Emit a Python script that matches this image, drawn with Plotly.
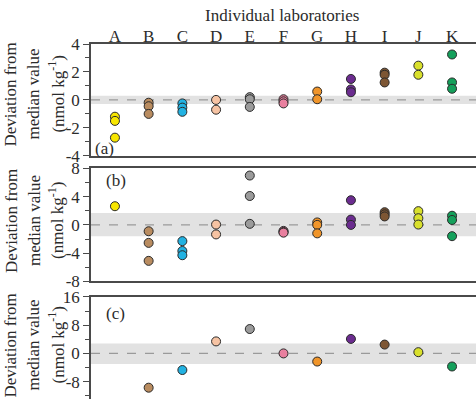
import plotly.graph_objects as go

labs = ["A", "B", "C", "D", "E", "F", "G", "H", "I", "J", "K"]
lab_colors = ["#f7e600", "#b98c60", "#22b2e2", "#f6c3a3", "#9b9b9b", "#e9809f",
              "#f0952a", "#6b2c8f", "#7d5634", "#d9e02c", "#14a05b"]

# Deviation from median value (nmol kg-1), per laboratory
panel_a = [[-1.2, -1.5, -2.7], [-0.2, -0.45, -1.0], [-0.25, -0.55, -0.85], [0.0, -0.7],
           [0.2, 0.05, -0.5], [0.05, -0.1, -0.25], [0.6, 0.05], [1.5, 0.75, 0.55],
           [1.95, 1.8, 1.25], [2.45, 1.8], [3.25, 1.25, 0.8]]
panel_b = [[2.65], [-0.9, -2.55, -5.1], [-2.3, -3.7, -4.3], [0.05, -1.35],
           [7.0, 4.1, 0.15], [-0.85, -1.0, -1.1], [0.35, 0.0, -1.2], [3.5, 0.75, 0.0],
           [1.8, 1.5, 1.2], [1.95, 0.95, 0.05], [1.3, 0.7, -1.6]]
panel_c = [[], [-9.7], [-4.7], [3.4], [6.9], [0.0], [-2.3], [4.1], [2.5], [0.35], [-3.7]]

bands = [(-0.3, 0.3), (-1.6, 1.7), (-3.0, 2.8)]
panel_tags = ["(a)", "(b)", "(c)"]
title_lines = ["Deviation from", "median value", "(nmol kg<sup>-1</sup>)"]

FONT = "Liberation Serif"
TXT = "#2b2b2b"
AX = "#4a4a4a"

fig = go.Figure()
for p, data in enumerate([panel_a, panel_b, panel_c]):
    xa = "x" if p == 0 else f"x{p+1}"
    ya = "y" if p == 0 else f"y{p+1}"
    for i, vals in enumerate(data):
        if not vals:
            continue
        fig.add_trace(go.Scatter(
            x=[i + 1] * len(vals), y=vals, mode="markers", xaxis=xa, yaxis=ya,
            marker=dict(size=9, color=lab_colors[i], line=dict(color="#2a2a2a", width=1)),
            showlegend=False, hoverinfo="skip"))

W, H = 476, 409
L, T = 91, 44
ph = H - T
def dom(top_px, bot_px):
    return [max(0, (H - bot_px) / ph), min(1, (H - top_px) / ph)]

doms = [dom(44, 159), dom(172, 288), dom(304, 409)]
ranges = [[-4, 4], [-8, 8], [-12.9, 16]]
majors = [[-4, -2, 0, 2, 4], [-8, -4, 0, 4, 8], [-8, 0, 8, 16]]
minor_dt = [1, 2, 4]

xcommon = dict(range=[0.29, 11.71], showgrid=False, zeroline=False,
               showline=True, linecolor=AX, linewidth=2)
ycommon = dict(showgrid=False, zeroline=False, showline=True, linecolor=AX, linewidth=1.5,
               ticks="outside", ticklen=6, tickcolor=AX, tickwidth=1.2,
               tickfont=dict(family=FONT, size=17, color=TXT))

layout = dict(width=W, height=H, margin=dict(l=L, r=0, t=T, b=0),
              paper_bgcolor="white", plot_bgcolor="white",
              font=dict(family=FONT, color=TXT))

for p in range(3):
    xk = "xaxis" if p == 0 else f"xaxis{p+1}"
    yk = "yaxis" if p == 0 else f"yaxis{p+1}"
    ya = "y" if p == 0 else f"y{p+1}"
    xa = "x" if p == 0 else f"x{p+1}"
    xd = dict(xcommon, anchor=ya)
    if p == 0:
        xd.update(side="top", mirror=True, tickmode="array", tickvals=list(range(1, 12)),
                  ticktext=labs, ticks="", ticklabelstandoff=-7,
                  tickfont=dict(family=FONT, size=17, color=TXT))
    elif p == 1:
        xd.update(mirror=True, showticklabels=False, ticks="")
    else:
        xd.update(side="top", mirror=False, showticklabels=False, ticks="")
    layout[xk] = xd
    yd = dict(ycommon, anchor=xa, domain=doms[p], range=ranges[p],
              tickmode="array", tickvals=majors[p],
              ticktext=[str(v) for v in majors[p]],
              minor=dict(tickmode="linear", tick0=0, dtick=minor_dt[p], ticks="outside",
                         ticklen=4, tickcolor=AX, tickwidth=1))
    layout[yk] = yd

fig.update_layout(**layout)

shapes = []
annotations = []
for p in range(3):
    ya = "y" if p == 0 else f"y{p+1}"
    lo, hi = bands[p]
    shapes.append(dict(type="rect", xref="paper", yref=ya, x0=0, x1=1, y0=lo, y1=hi,
                       fillcolor="#e2e2e2", line=dict(width=0), layer="below"))
    shapes.append(dict(type="line", xref="paper", yref=ya, x0=0, x1=1, y0=0, y1=0,
                       line=dict(color="#9a9a9a", width=1.3, dash="dash"), layer="below"))

title_centers = [96, 226, 354]
line_x = [11, 34, 56]
for p in range(3):
    yc = (H - title_centers[p]) / ph
    for k, txt in enumerate(title_lines):
        annotations.append(dict(text=txt, xref="paper", yref="paper",
                                x=(line_x[k] - L) / (W - L), y=yc,
                                textangle=-90, showarrow=False, xanchor="center", yanchor="middle",
                                font=dict(family=FONT, size=17, color=TXT)))

tag_pos = [(93, 151), (104, 184), (104, 321)]
for p, (px, py) in enumerate(tag_pos):
    annotations.append(dict(text=panel_tags[p], xref="paper", yref="paper",
                            x=(px - L) / (W - L), y=(H - py) / ph, showarrow=False,
                            xanchor="left", yanchor="middle",
                            font=dict(family=FONT, size=17, color=TXT)))

annotations.append(dict(text="Individual laboratories", xref="paper", yref="paper",
                        x=(282 - L) / (W - L), y=(H - 15) / ph, showarrow=False,
                        xanchor="center", yanchor="middle",
                        font=dict(family=FONT, size=17, color=TXT)))

fig.update_layout(shapes=shapes, annotations=annotations)
fig.write_html("out.html")
